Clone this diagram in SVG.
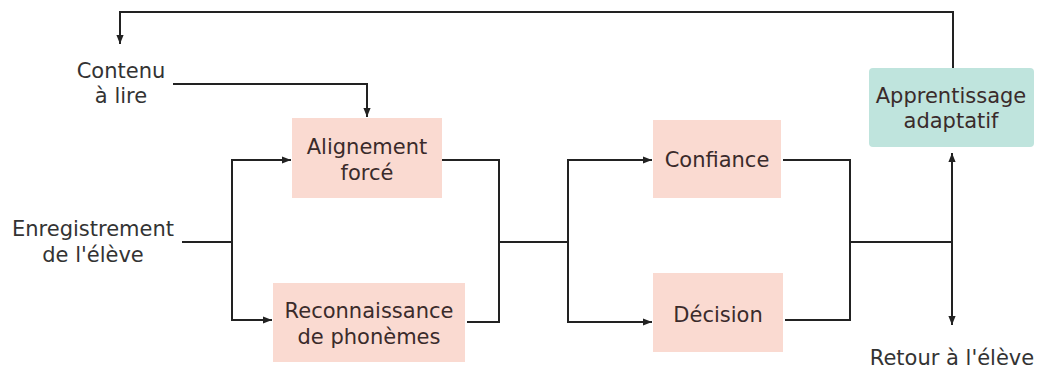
<svg xmlns="http://www.w3.org/2000/svg" width="1039" height="374" viewBox="0 0 1039 374">
<defs>
<marker id="ah" viewBox="0 0 10 10" refX="10" refY="5" markerWidth="9" markerHeight="9" markerUnits="userSpaceOnUse" orient="auto">
<path d="M0,1 L10,5 L0,9 Z" fill="#222"/>
</marker>
<style>
text{font-family:"DejaVu Sans",Verdana,sans-serif;font-size:21px;text-anchor:middle}
.lbl{fill:#333}
.bt{fill:#3a2b2b}
.pink{fill:#fadad1}
.teal{fill:#bfe4dd}
.c{fill:none;stroke:#222;stroke-width:2}
.ca{fill:none;stroke:#222;stroke-width:2;marker-end:url(#ah)}
</style>
</defs>
<rect width="1039" height="374" fill="#fff"/>
<g id="connectors">
<path class="ca" d="M953,68 V12 H120 V44"/>
<path class="ca" d="M173,84 H367 V117"/>
<path class="c" d="M182,242 H232"/>
<path class="ca" d="M232,242 V160 H291"/>
<path class="ca" d="M232,242 V320 H272"/>
<path class="c" d="M442,160 H499 V322 H467"/>
<path class="c" d="M499,242 H568"/>
<path class="ca" d="M568,242 V160 H652"/>
<path class="ca" d="M568,242 V322 H652"/>
<path class="c" d="M783,160 H850 V320 H785"/>
<path class="c" d="M850,242 H952"/>
<path class="ca" d="M952,242 V153"/>
<path class="ca" d="M952,242 V325"/>
</g>
<g id="contenu"><text class="lbl" x="121" y="78">Contenu</text><text class="lbl" x="121" y="103">à lire</text></g>
<g id="enregistrement"><text class="lbl" x="93" y="236">Enregistrement</text><text class="lbl" x="93" y="262">de l'élève</text></g>
<g id="retour"><text class="lbl" x="952" y="365">Retour à l'élève</text></g>
<g id="alignement"><rect class="pink" x="292" y="118" width="150" height="80"/><text class="bt" x="367" y="154">Alignement</text><text class="bt" x="367" y="180">forcé</text></g>
<g id="reconnaissance"><rect class="pink" x="273" y="283" width="192" height="79"/><text class="bt" x="369" y="318">Reconnaissance</text><text class="bt" x="369" y="344">de phonèmes</text></g>
<g id="confiance"><rect class="pink" x="653" y="120" width="128" height="78"/><text class="bt" x="717" y="167">Confiance</text></g>
<g id="decision"><rect class="pink" x="653" y="273" width="130" height="79"/><text class="bt" x="718" y="322">Décision</text></g>
<g id="apprentissage"><rect class="teal" x="869" y="68" width="165" height="79" rx="4"/><text class="bt" x="951" y="103">Apprentissage</text><text class="bt" x="951" y="128">adaptatif</text></g>
</svg>
